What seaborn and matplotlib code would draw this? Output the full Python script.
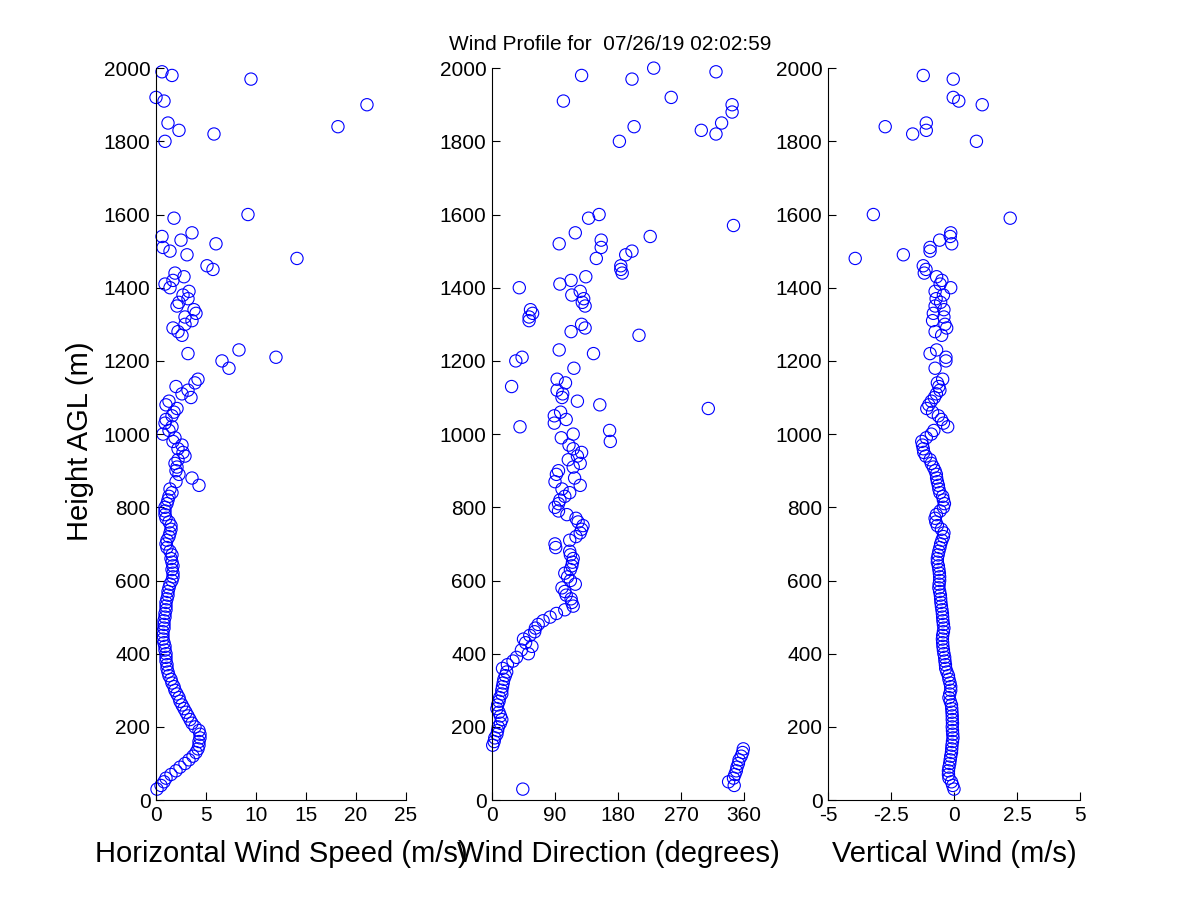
import numpy as np
import pandas as pd
import seaborn as sns
import matplotlib.pyplot as plt

sns.set_theme(style="ticks")
plt.rcParams['font.family'] = ['Liberation Sans', 'DejaVu Sans']
plt.rcParams['axes.unicode_minus'] = False
plt.rcParams['xtick.direction'] = 'in'
plt.rcParams['ytick.direction'] = 'in'
for key in ['text.color', 'axes.labelcolor', 'xtick.color', 'ytick.color', 'axes.edgecolor']:
    plt.rcParams[key] = 'black'

# dense lower gates (m AGL)
heights_low = [
    30, 40, 50, 60, 70, 80, 90, 100, 110, 120,
    130, 140, 150, 160, 170, 180, 190, 200, 210, 220,
    230, 240, 250, 260, 270, 280, 290, 300, 310, 320,
    330, 340, 350, 360, 370, 380, 390, 400, 410, 420,
    430, 440, 450, 460, 470, 480, 490, 500, 510, 520,
    530, 540, 550, 560, 570, 580, 590, 600, 610, 620,
    630, 640, 650, 660, 670, 680, 690, 700, 710, 720,
    730, 740, 750, 760, 770, 780, 790, 800, 810, 820,
    830, 840, 850, 860, 870, 880, 890, 900, 910, 920,
    930, 940, 950, 960, 970, 980, 990, 1000, 1010, 1020,
    1030, 1040, 1050, 1060, 1070, 1080, 1090, 1100, 1110, 1120,
    1130, 1140, 1150,
]
speed_low = [
    0.1, 0.5, 0.8, 1.0, 1.5, 2.0, 2.4, 2.9, 3.3, 3.7,
    4.0, 4.2, 4.3, 4.3, 4.4, 4.4, 4.3, 3.9, 3.6, 3.4,
    3.2, 3.0, 2.8, 2.6, 2.4, 2.3, 2.1, 1.9, 1.8, 1.6,
    1.5, 1.3, 1.2, 1.1, 1.1, 1.0, 1.0, 1.0, 0.9, 0.9,
    0.8, 0.7, 0.7, 0.7, 0.8, 0.8, 0.8, 0.9, 0.9, 1.0,
    1.0, 1.0, 1.1, 1.2, 1.2, 1.3, 1.4, 1.6, 1.7, 1.7,
    1.6, 1.7, 1.6, 1.5, 1.6, 1.4, 1.1, 1.0, 1.1, 1.3,
    1.4, 1.5, 1.5, 1.3, 1.0, 0.9, 0.9, 0.9, 1.1, 1.2,
    1.3, 1.6, 1.4, 4.3, 2.0, 3.6, 2.3, 2.0, 2.1, 1.9,
    2.2, 2.9, 2.7, 2.2, 2.6, 1.7, 1.9, 0.7, 1.3, 1.6,
    0.9, 1.0, 1.6, 1.8, 2.1, 1.0, 1.3, 3.5, 2.6, 3.2,
    2.0, 3.9, 4.2,
]
direction_low = [
    44, 346, 338, 345, 347, 349, 350, 352, 353, 356,
    358, 359, 1, 3, 4, 7, 8, 9, 12, 14,
    12, 10, 7, 8, 10, 11, 14, 14, 15, 16,
    17, 19, 21, 15, 22, 30, 35, 52, 42, 57,
    48, 45, 54, 61, 62, 66, 73, 83, 92, 104,
    116, 114, 113, 106, 104, 100, 119, 112, 108, 104,
    112, 114, 115, 116, 112, 111, 91, 90, 111, 120,
    126, 128, 130, 123, 120, 107, 95, 90, 95, 97,
    104, 111, 100, 126, 90, 118, 92, 95, 116, 126,
    109, 122, 128, 116, 110, 169, 99, 116, 168, 40,
    89, 106, 89, 98, 309, 154, 122, 100, 101, 93,
    28, 105, 93,
]
vertical_low = [
    0.0, -0.05, -0.1, -0.2, -0.22, -0.22, -0.2, -0.17, -0.15, -0.13,
    -0.1, -0.09, -0.08, -0.06, -0.04, -0.05, -0.06, -0.07, -0.06, -0.07,
    -0.07, -0.08, -0.09, -0.1, -0.15, -0.2, -0.17, -0.13, -0.13, -0.16,
    -0.2, -0.22, -0.28, -0.33, -0.34, -0.36, -0.37, -0.4, -0.42, -0.44,
    -0.45, -0.46, -0.45, -0.42, -0.4, -0.42, -0.44, -0.45, -0.46, -0.48,
    -0.5, -0.52, -0.53, -0.54, -0.57, -0.6, -0.59, -0.57, -0.57, -0.58,
    -0.6, -0.62, -0.66, -0.66, -0.63, -0.6, -0.56, -0.53, -0.48, -0.42,
    -0.4, -0.5, -0.66, -0.72, -0.75, -0.7, -0.55, -0.42, -0.38, -0.42,
    -0.45, -0.56, -0.6, -0.62, -0.66, -0.69, -0.7, -0.75, -0.82, -0.9,
    -0.95, -1.12, -1.2, -1.22, -1.25, -1.28, -1.1, -0.9, -0.8, -0.25,
    -0.42, -0.5, -0.62, -0.85, -1.08, -1.0, -0.9, -0.78, -0.7, -0.56,
    -0.6, -0.66, -0.45,
]

# sparse upper gates
heights_up = [
    1180, 1200, 1210, 1220, 1230, 1270, 1280, 1290, 1300, 1310,
    1320, 1330, 1340, 1350, 1360, 1370, 1380, 1390, 1400, 1410,
    1420, 1430, 1440, 1450, 1460, 1480, 1490, 1500, 1510, 1520,
    1530, 1540, 1550, 1570, 1590, 1600, 1800, 1820, 1830, 1840,
    1850, 1880, 1900, 1910, 1920, 1970, 1980, 1990, 2000,
]
nan = np.nan
speed_up = [
    7.3, 6.6, 12.0, 3.2, 8.3, 2.6, 2.2, 1.7, 2.9, 3.6,
    2.9, 4.0, 3.8, 2.1, 2.3, 3.2, 2.7, 3.3, 1.4, 0.9,
    1.7, 2.8, 1.9, 5.7, 5.1, 14.1, 3.1, 1.4, 0.7, 6.0,
    2.5, 0.6, 3.6, nan, 1.8, 9.2, 0.9, 5.8, 2.3, 18.2,
    1.2, nan, 21.1, 0.8, 0.0, 9.5, 1.6, 0.6, nan,
]
direction_up = [
    117, 34, 43, 145, 96, 210, 113, 133, 128, 53,
    53, 58, 55, 133, 129, 131, 114, 126, 39, 97,
    113, 134, 186, 184, 184, 149, 191, 200, 156, 96,
    156, 226, 119, 345, 138, 153, 182, 320, 299, 203,
    328, 343, 343, 102, 256, 200, 128, 320, 231,
]
vertical_up = [
    -0.75, -0.32, -0.32, -0.95, -0.69, -0.49, -0.75, -0.29, -0.36, -0.85,
    -0.40, -0.82, -0.40, -0.75, -0.53, -0.71, -0.42, -0.75, -0.13, -0.55,
    -0.48, -0.69, -1.18, -1.11, -1.22, -3.92, -2.01, -0.95, -0.95, -0.09,
    -0.57, -0.15, -0.13, nan, 2.23, -3.20, 0.89, -1.64, -1.10, -2.73,
    -1.10, nan, 1.12, 0.19, -0.03, -0.03, -1.22, nan, nan,
]

df = pd.DataFrame({
    "height": heights_low + heights_up,
    "speed": speed_low + speed_up,
    "direction": direction_low + direction_up,
    "vertical": vertical_low + vertical_up,
})

fig = plt.figure(figsize=(12, 9), dpi=100)
ax1 = fig.add_axes([0.13, 0.111, 0.2083, 0.8133])
ax2 = fig.add_axes([0.41, 0.111, 0.2100, 0.8133])
ax3 = fig.add_axes([0.69, 0.111, 0.2100, 0.8133])

circle_kw = dict(marker="o", s=78, fc="none", ec="blue", linewidth=0.8, legend=False)

panels = [
    (ax1, "speed", (0, 25), [0, 5, 10, 15, 20, 25], None, "Horizontal Wind Speed (m/s)"),
    (ax2, "direction", (0, 360), [0, 90, 180, 270, 360], None, "Wind Direction (degrees)"),
    (ax3, "vertical", (-5, 5), [-5, -2.5, 0, 2.5, 5], ["-5", "-2.5", "0", "2.5", "5"], "Vertical Wind (m/s)"),
]

for ax, col, xlim, xticks, xticklabels, xlabel in panels:
    sns.scatterplot(data=df, x=col, y="height", ax=ax, clip_on=False, **circle_kw)
    ax.set_xlim(*xlim)
    ax.set_ylim(0, 2000)
    ax.set_xticks(xticks)
    if xticklabels:
        ax.set_xticklabels(xticklabels)
    ax.set_yticks(range(0, 2001, 200))
    ax.set_xlabel(xlabel, fontsize=21, labelpad=11)
    ax.set_ylabel("")
    ax.tick_params(axis="both", labelsize=15, length=6, width=0.8, color="black", pad=4)
    for side in ["top", "right"]:
        ax.spines[side].set_visible(False)
    for side in ["left", "bottom"]:
        ax.spines[side].set_linewidth(0.8)
        ax.spines[side].set_color("black")
    ax.set_facecolor("white")

ax1.set_ylabel("Height AGL (m)", fontsize=21)
ax1.yaxis.set_label_coords(-0.25, 0.49)
fig.text(610 / 1200, 1 - 44 / 900, "Wind Profile for  07/26/19 02:02:59",
         ha="center", va="center", fontsize=15, color="black")

fig.savefig("out.png", dpi=100, facecolor="white")
